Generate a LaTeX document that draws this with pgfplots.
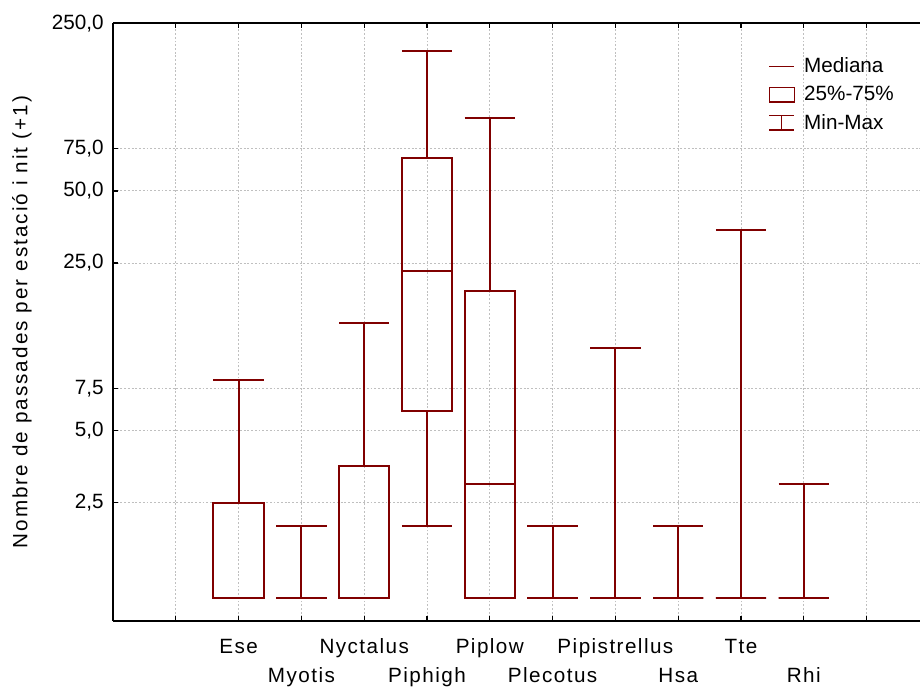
\documentclass[border=0pt]{standalone}
\usepackage{pgfplots}
\pgfplotsset{compat=1.18}
\usepgfplotslibrary{statistics}
\usepackage{fontspec}
\setmainfont{Liberation Sans}
\newfontfamily\widefont[LetterSpace=7]{Liberation Sans}
\newfontfamily\ylabfont[LetterSpace=10]{Liberation Sans}
\definecolor{boxred}{RGB}{128,0,0}
\newcommand{\lblfont}{\fontsize{15.5}{22}\selectfont}
\begin{document}
\begin{tikzpicture}
\begin{axis}[
  width=605.25pt, height=448.3pt, scale only axis,
  ymode=log, ymin=0.803, ymax=250,
  xmin=-1, xmax=11.85,
  axis x line*=box, axis y line*=left,
  axis line style={-, black, line width=1.4pt},
  xtick={0,1,2,3,4,5,6,7,8,9,10,11},
  xticklabels={{}, {\strut Ese}, {\strut\\Myotis}, {\strut Nyctalus}, {\strut\\Piphigh}, {\strut Piplow}, {\strut\\Plecotus}, {\strut Pipistrellus}, {\strut\\Hsa}, {\strut Tte}, {\strut\\Rhi}, {}},
  xticklabel style={align=center, anchor=north, font=\widefont\lblfont, inner sep=0pt, yshift=-8.4pt},
  ytick={2.5,5,7.5,25,50,75,250},
  yticklabels={{2,5},{5,0},{7,5},{25,0},{50,0},{75,0},{250,0}},
  yticklabel style={font=\lblfont, xshift=-3.5pt},
  yminorticks=false, xminorticks=false,
  tick style={black, line width=1pt},
  major tick length=3.5pt,
  grid=major,
  major grid style={gray!50, line width=0.7pt, dash pattern=on 1.4pt off 1.4pt},
  ylabel={Nombre de passades per estació i nit (+1)},
  ylabel style={font=\ylabfont\lblfont, at={(axis description cs:-0.1128,0.5)}, anchor=center},
  legend style={at={(axis description cs:0.812,0.947)}, anchor=north west, draw=none, fill=none, font=\lblfont, row sep=4.6pt, column sep=5pt, inner sep=0pt},
  legend cell align=left,
  boxplot/draw direction=y,
  boxplot/box extend=0.8,
  boxplot/whisker extend=0.8,
]
\addlegendimage{legend image code/.code={\draw[boxred, line width=1pt] (0pt,0pt) -- (18.75pt,0pt);}}
\addlegendentry{Mediana}
\addlegendimage{legend image code/.code={\draw[boxred, line width=1pt] (0pt,-5.5pt) rectangle (18.75pt,5.5pt);}}
\addlegendentry{25\%-75\%}
\addlegendimage{legend image code/.code={\draw[boxred, line width=1pt] (0pt,5.5pt) -- (18.75pt,5.5pt) (9.4pt,5.5pt) -- (9.4pt,-5.5pt) (0pt,-5.5pt) -- (18.75pt,-5.5pt);}}
\addlegendentry{Min-Max}

% Ese
\addplot[boxred, line width=1.5pt, forget plot, boxplot prepared={draw position=1, lower whisker=1, lower quartile=1, median=1, upper quartile=2.5, upper whisker=8.1}] coordinates {};
% Myotis
\addplot[boxred, line width=1.5pt, forget plot, boxplot prepared={draw position=2, lower whisker=1, lower quartile=1, median=1, upper quartile=1, upper whisker=2}] coordinates {};
% Nyctalus
\addplot[boxred, line width=1.5pt, forget plot, boxplot prepared={draw position=3, lower whisker=1, lower quartile=1, median=1, upper quartile=3.55, upper whisker=14.1}] coordinates {};
% Piphigh
\addplot[boxred, line width=1.5pt, forget plot, boxplot prepared={draw position=4, lower whisker=2, lower quartile=6.05, median=23.2, upper quartile=68.3, upper whisker=191}] coordinates {};
% Piplow
\addplot[boxred, line width=1.5pt, forget plot, boxplot prepared={draw position=5, lower whisker=1, lower quartile=1, median=3, upper quartile=19.1, upper whisker=101}] coordinates {};
% Plecotus
\addplot[boxred, line width=1.5pt, forget plot, boxplot prepared={draw position=6, lower whisker=1, lower quartile=1, median=1, upper quartile=1, upper whisker=2}] coordinates {};
% Pipistrellus
\addplot[boxred, line width=1.5pt, forget plot, boxplot prepared={draw position=7, lower whisker=1, lower quartile=1, median=1, upper quartile=1, upper whisker=11.1}] coordinates {};
% Hsa
\addplot[boxred, line width=1.5pt, forget plot, boxplot prepared={draw position=8, lower whisker=1, lower quartile=1, median=1, upper quartile=1, upper whisker=2}] coordinates {};
% Tte
\addplot[boxred, line width=1.5pt, forget plot, boxplot prepared={draw position=9, lower whisker=1, lower quartile=1, median=1, upper quartile=1, upper whisker=34.3}] coordinates {};
% Rhi
\addplot[boxred, line width=1.5pt, forget plot, boxplot prepared={draw position=10, lower whisker=1, lower quartile=1, median=1, upper quartile=1, upper whisker=3}] coordinates {};

\coordinate (ll) at (rel axis cs:0,0);
\coordinate (ur) at (rel axis cs:1,1);
\end{axis}
\pgfresetboundingbox
\path[use as bounding box] ([xshift=-84.75pt, yshift=-48.75pt]ll) rectangle ([yshift=17.5pt]ur);
\end{tikzpicture}
\end{document}
